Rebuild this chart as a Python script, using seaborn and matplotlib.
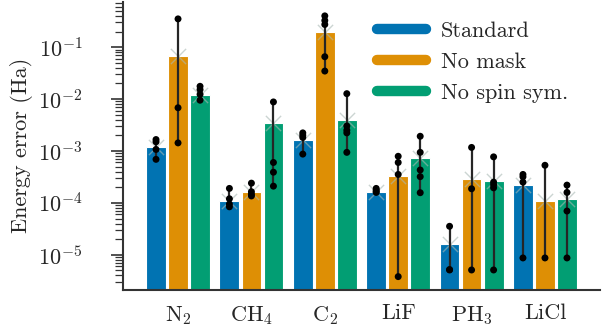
import numpy as np
import pandas as pd
import matplotlib.pyplot as plt
from matplotlib.lines import Line2D
import seaborn as sns

molecules = ['N$_2$', 'CH$_4$', 'C$_2$', 'LiF', 'PH$_3$', 'LiCl']
variants = ['Standard', 'No mask', 'No spin sym.']
palette = ['#0173B2', '#DE8F05', '#029E73']

# bar heights (Ha), one value per molecule
bar_std = [1.20e-3, 1.10e-4, 1.61e-3, 1.59e-4, 1.62e-5, 2.20e-4]
bar_nomask = [6.9e-2, 1.59e-4, 2.00e-1, 3.28e-4, 2.87e-4, 1.07e-4]
bar_nospin = [1.20e-2, 3.47e-3, 4.03e-3, 7.18e-4, 2.67e-4, 1.17e-4]

# individual runs (Ha)
runs_std = [[1.66e-3, 1.50e-3, 1.07e-3, 6.9e-4],
            [1.90e-4, 1.20e-4, 9.5e-5, 8.4e-5],
            [2.23e-3, 2.01e-3, 1.82e-3, 8.7e-4],
            [1.90e-4, 1.77e-4, 1.65e-4, 1.59e-4],
            [3.54e-5, 5.1e-6, 5.2e-6],
            [3.53e-4, 3.18e-4, 2.51e-4, 8.7e-6]]
runs_nomask = [[3.5e-1, 6.8e-3, 1.43e-3],
               [2.40e-4, 1.64e-4, 1.46e-4, 1.36e-4],
               [4.0e-1, 3.26e-1, 2.73e-1, 6.54e-2, 3.46e-2],
               [7.9e-4, 6.0e-4, 3.53e-4, 3.8e-6],
               [1.17e-3, 1.87e-4, 5.1e-6],
               [5.3e-4, 8.7e-6]]
runs_nospin = [[1.76e-2, 1.52e-2, 1.23e-2, 9.5e-3],
               [8.8e-3, 6.0e-4, 3.9e-4, 2.1e-4],
               [1.27e-2, 3.03e-3, 2.51e-3, 2.23e-3, 9.4e-4],
               [1.92e-3, 9.4e-4, 4.3e-4, 3.2e-4, 1.57e-4],
               [7.7e-4, 2.51e-4, 2.23e-4, 1.95e-4, 5.1e-6],
               [2.20e-4, 1.59e-4, 6.97e-5, 8.7e-6]]

bars = pd.DataFrame({
    'molecule': molecules * 3,
    'variant': np.repeat(variants, len(molecules)),
    'error': bar_std + bar_nomask + bar_nospin,
})
rows = []
for var, runs in zip(variants, [runs_std, runs_nomask, runs_nospin]):
    for mol, vals in zip(molecules, runs):
        for v in vals:
            rows.append((mol, var, v))
pts = pd.DataFrame(rows, columns=['molecule', 'variant', 'error'])

sns.set_style('ticks')
plt.rcParams['font.family'] = ['cmr10', 'DejaVu Serif']
plt.rcParams['mathtext.fontset'] = 'cm'
plt.rcParams['axes.formatter.use_mathtext'] = True
plt.rcParams['axes.unicode_minus'] = False

fig = plt.figure(figsize=(6.02, 3.28), dpi=100)
ax = fig.add_axes([0.2043, 0.1159, 0.7924, 0.8789])
ax.set_yscale('log')

sns.barplot(data=bars, x='molecule', y='error', hue='variant', order=molecules,
            hue_order=variants, palette=palette, saturation=1, width=0.9, gap=0.1,
            edgecolor='white', linewidth=0.8, errorbar=None, legend=False, ax=ax)
bar_patches = list(ax.patches)
for p in bar_patches:
    ax.scatter(p.get_x() + p.get_width() / 2, p.get_y() + p.get_height(), marker='x',
               s=120, color='#a9b9b4', alpha=0.6, linewidths=1, zorder=3)

# min-max range of runs
sns.barplot(data=pts, x='molecule', y='error', hue='variant', order=molecules,
            hue_order=variants, width=0.9, fill=False, linewidth=0,
            errorbar=('pi', 100), err_kws={'color': '#262626', 'linewidth': 1.6, 'zorder': 4},
            legend=False, ax=ax)

n_before = len(ax.collections)
sns.stripplot(data=pts, x='molecule', y='error', hue='variant', order=molecules,
              hue_order=variants, palette=['black'] * 3, dodge=True, jitter=False,
              size=5, linewidth=0, legend=False, zorder=5, ax=ax)
# stripplot dodges over 0.8, bars over 0.9
for c in ax.collections[n_before:]:
    offs = c.get_offsets()
    if len(offs):
        base = np.round(offs[:, 0])
        offs[:, 0] = base + (offs[:, 0] - base) * 0.9 / 0.8
        c.set_offsets(offs)

ax.set_xlim(-0.75, 5.75)
ax.set_ylim(2.1e-6, 0.75)
ax.set_xlabel('')
ax.set_ylabel('Energy error (Ha)', fontsize=16)
sns.despine(ax=ax)
for s in ['left', 'bottom']:
    ax.spines[s].set_color('#333333')
    ax.spines[s].set_linewidth(1.5)
ax.tick_params(axis='y', which='major', length=9, width=1.2, color='#333333',
               pad=20, labelsize=16)
ax.tick_params(axis='y', which='minor', length=6, width=0.9, color='#333333')
ax.tick_params(axis='x', length=0, pad=10, labelsize=16)

handles = [Line2D([0], [0], color=c, lw=7.5, solid_capstyle='round') for c in palette]
ax.legend(handles, variants, loc='upper left', bbox_to_anchor=(0.49, 1.0),
          frameon=False, fontsize=16, handlelength=2.2, labelspacing=0.5,
          handletextpad=0.7)

fig.savefig('out.png', dpi=100)
